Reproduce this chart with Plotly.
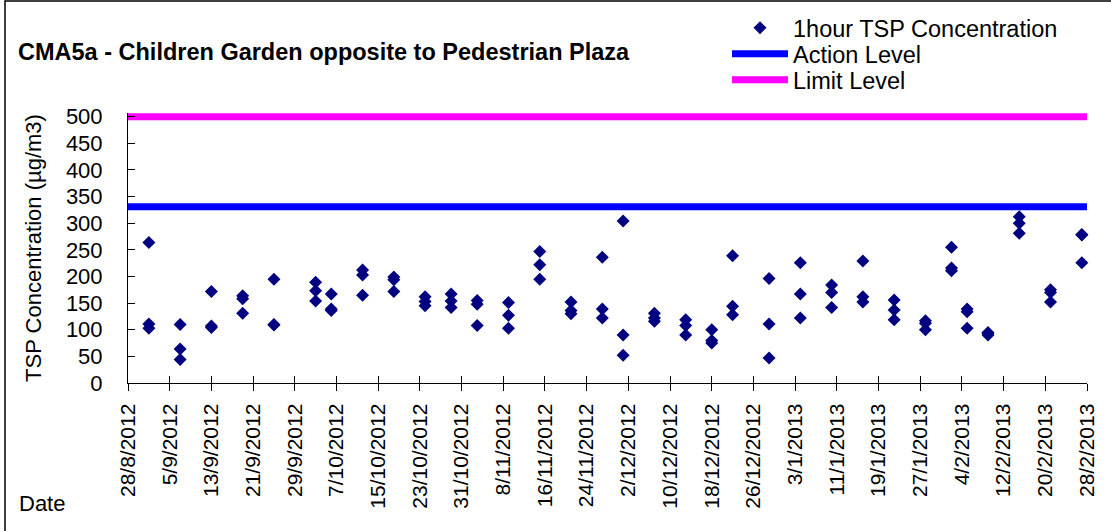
import plotly.graph_objects as go

# ---- data ----
sample_dates = [
    "2012-09-01", "2012-09-07", "2012-09-13", "2012-09-19", "2012-09-25",
    "2012-10-03", "2012-10-06", "2012-10-12", "2012-10-18", "2012-10-24",
    "2012-10-29", "2012-11-03", "2012-11-09", "2012-11-15", "2012-11-21",
    "2012-11-27", "2012-12-01", "2012-12-07", "2012-12-13", "2012-12-18",
    "2012-12-22", "2012-12-29", "2013-01-04", "2013-01-10", "2013-01-16",
    "2013-01-22", "2013-01-28", "2013-02-02", "2013-02-05", "2013-02-09",
    "2013-02-15", "2013-02-21", "2013-02-27",
]
reading_1 = [264, 110, 172, 164, 195, 189, 167, 212, 199, 162, 167, 155, 151, 247, 152,
             236, 304, 131, 119, 100, 239, 196, 226, 184, 229, 156, 117, 255, 139, 95,
             312, 175, 279]
reading_2 = [111, 64, 104, 158, 109, 173, 139, 203, 194, 153, 154, 148, 127, 222, 136,
             139, 90, 122, 108, 80, 144, 111, 167, 170, 162, 137, 112, 216, 134, 93,
             300, 170, 278]
reading_3 = [103, 44, 107, 131, 110, 154, 136, 165, 172, 145, 142, 108, 103, 195, 130,
             122, 52, 116, 90, 75, 128, 47, 122, 142, 152, 119, 100, 211, 103, 90,
             281, 152, 226]

period = ["2012-08-28", "2013-02-28"]
action_level = [331, 331]
limit_level = [500, 500]

y_ticks = [0, 50, 100, 150, 200, 250, 300, 350, 400, 450, 500]
y_range = [0, 507]

# ---- figure ----
xs = sample_dates * 3
ys = reading_1 + reading_2 + reading_3

FONT = "Arial, 'Liberation Sans', sans-serif"
W, H = 1111, 531
L, R, T, B = 128, 24, 113, 148
pw, ph = W - L - R, H - T - B


def px(xp):
    return (xp - L) / pw


def py(yp):
    return (H - B - yp) / ph


fig = go.Figure()
fig.add_trace(go.Scatter(
    x=xs, y=ys, mode="markers", name="1hour TSP Concentration",
    marker=dict(symbol="diamond", size=10, color="#000080", line=dict(width=0)),
    cliponaxis=False, legend="legend",
))
fig.add_trace(go.Scatter(
    x=period, y=action_level, mode="lines", name="Action Level",
    line=dict(color="#0000FF", width=7), cliponaxis=False, legend="legend2",
))
fig.add_trace(go.Scatter(
    x=period, y=limit_level, mode="lines", name="Limit Level",
    line=dict(color="#FF00FF", width=7), cliponaxis=False, legend="legend3",
))
# invisible helper traces so the overlaid tick-only axes (inside ticks) are drawn
fig.add_trace(go.Scatter(x=period, y=action_level, xaxis="x2", yaxis="y", mode="lines",
                         line=dict(width=0, color="rgba(0,0,0,0)"),
                         showlegend=False, hoverinfo="skip"))
fig.add_trace(go.Scatter(x=period, y=action_level, xaxis="x", yaxis="y2", mode="lines",
                         line=dict(width=0, color="rgba(0,0,0,0)"),
                         showlegend=False, hoverinfo="skip"))

DAY = 86400000
leg_common = dict(xanchor="left", yanchor="middle", bgcolor="rgba(0,0,0,0)",
                  font=dict(size=23.5), itemwidth=56)
LEG_X = px(727)

fig.update_layout(
    width=W, height=H,
    margin=dict(l=L, r=R, t=T, b=B, autoexpand=False),
    paper_bgcolor="white", plot_bgcolor="white",
    font=dict(family=FONT, size=22, color="black"),
    title=dict(text="<b>CMA5a - Children Garden opposite to Pedestrian Plaza</b>",
               x=18 / W, xanchor="left", xref="container",
               y=1 - 52 / H, yanchor="middle",
               font=dict(family=FONT, size=23.5, color="black")),
    showlegend=True,
    legend=dict(x=LEG_X, y=py(28), **leg_common),
    legend2=dict(x=LEG_X, y=py(54), **leg_common),
    legend3=dict(x=LEG_X, y=py(80), **leg_common),
    xaxis=dict(
        type="date", range=period,
        tick0=period[0], dtick=8 * DAY,
        tickformat="%-d/%-m/%Y", ticksuffix="\u2009", tickangle=-90,
        tickfont=dict(size=21),
        showgrid=False, zeroline=False,
        showline=True, linecolor="black", linewidth=1,
        ticks="outside", ticklen=7, tickcolor="black", tickwidth=1,
    ),
    xaxis2=dict(
        type="date", range=period, overlaying="x", anchor="y", side="bottom",
        tick0=period[0], dtick=8 * DAY,
        showticklabels=False, showgrid=False, zeroline=False, showline=False,
        ticks="inside", ticklen=7, tickcolor="black", tickwidth=1,
    ),
    yaxis=dict(
        range=y_range, tickvals=y_ticks,
        showgrid=False, zeroline=False,
        showline=True, linecolor="black", linewidth=1,
        ticks="outside", ticklen=20, tickcolor="rgba(0,0,0,0)",
        tickfont=dict(size=22),
        title=dict(text="TSP Concentration (µg/m3)", font=dict(size=22), standoff=18),
    ),
    yaxis2=dict(
        range=y_range, tickvals=y_ticks, overlaying="y", anchor="x", side="left",
        showticklabels=False, showgrid=False, zeroline=False, showline=False,
        ticks="inside", ticklen=7, tickcolor="black", tickwidth=1,
    ),
    annotations=[dict(text="Date", xref="paper", yref="paper",
                      x=px(17), y=py(503), xanchor="left", yanchor="middle",
                      showarrow=False, font=dict(size=22))],
    shapes=[dict(type="rect", xref="paper", yref="paper",
                 x0=px(5), x1=px(1120), y0=py(540), y1=py(1),
                 line=dict(color="black", width=1.5), fillcolor="rgba(0,0,0,0)",
                 layer="above")],
)

fig.write_html("out.html", config={"displayModeBar": False},
               post_script="document.body.style.margin='0px';"
                           "document.body.style.overflow='hidden';")
